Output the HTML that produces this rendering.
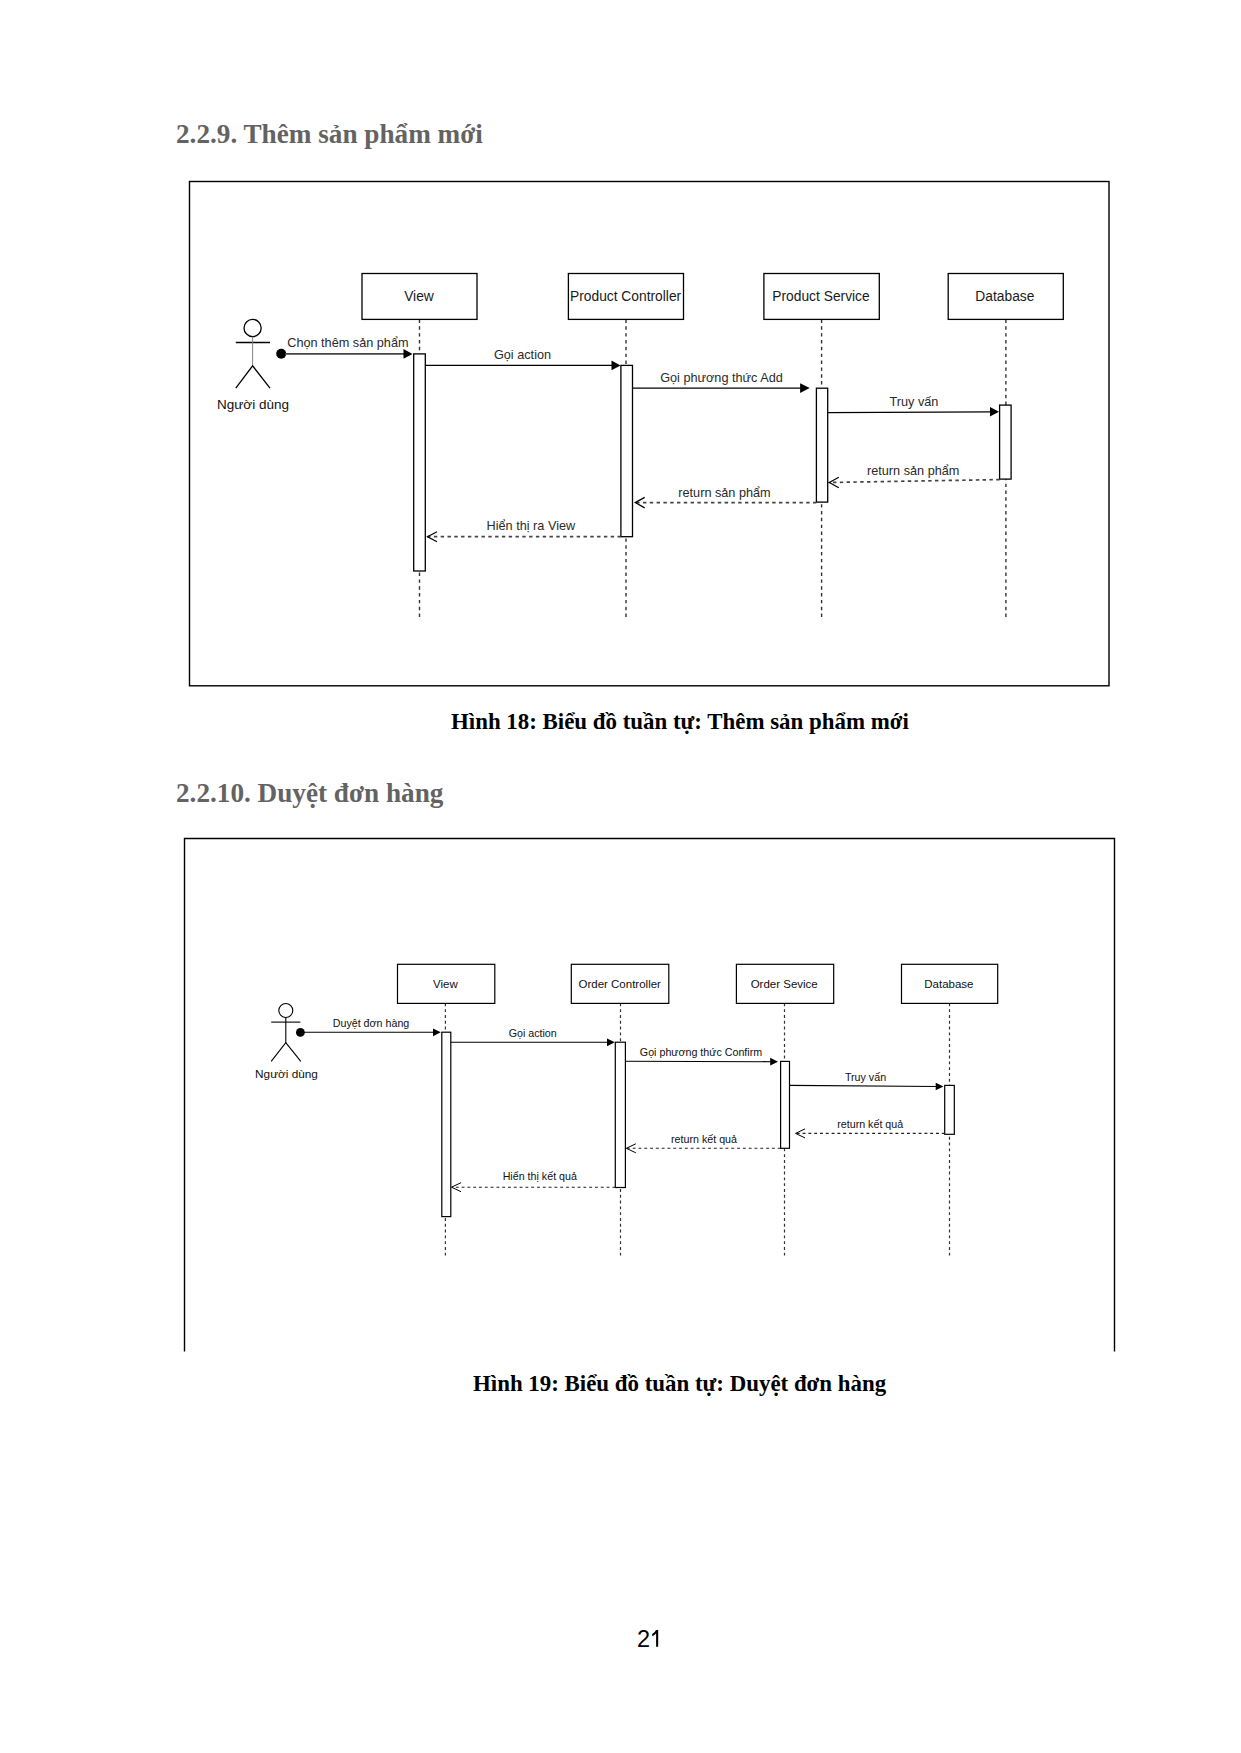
<!DOCTYPE html>
<html>
<head>
<meta charset="utf-8">
<style>
html,body{margin:0;padding:0;background:#fff;width:1241px;height:1753px;overflow:hidden;}
svg{position:absolute;left:0;top:0;}
.h{font-family:"Liberation Serif",serif;font-weight:bold;font-size:27.2px;fill:#636363;}
.cap{font-family:"Liberation Serif",serif;font-weight:bold;font-size:22.9px;fill:#000;}
.t1b{font-family:"Liberation Sans",sans-serif;font-size:13.8px;fill:#1a1a1a;}
.t1a{font-family:"Liberation Sans",sans-serif;font-size:13.5px;fill:#111;}
.t1m{font-family:"Liberation Sans",sans-serif;font-size:12.7px;fill:#2a2a2a;}
.t2b{font-family:"Liberation Sans",sans-serif;font-size:11.5px;fill:#111;}
.t2a{font-family:"Liberation Sans",sans-serif;font-size:11.8px;fill:#111;}
.t2m{font-family:"Liberation Sans",sans-serif;font-size:10.7px;fill:#111;}
.pn{font-family:"Liberation Sans",sans-serif;font-size:23.5px;fill:#000;}
</style>
</head>
<body>
<svg width="1241" height="1753" viewBox="0 0 1241 1753">
<defs>
</defs>
<!-- headings -->
<text class="h" x="176" y="143">2.2.9. Thêm sản phẩm mới</text>
<text class="cap" x="451" y="729">Hình 18: Biểu đồ tuần tự: Thêm sản phẩm mới</text>
<text class="h" x="176" y="801.5">2.2.10. Duyệt đơn hàng</text>
<text class="cap" x="473" y="1391">Hình 19: Biểu đồ tuần tự: Duyệt đơn hàng</text>
<text class="pn" x="637" y="1647">2</text>
<path d="M656,1630 L658.2,1630 L658.2,1646.7 L656.1,1646.7 L656.1,1633.6 Q654.6,1635.2 652.2,1636.2 L652.2,1634.1 Q655,1632.6 656,1630 Z" fill="#000"/>

<!-- DIAGRAM 1 -->
<g id="d1">
<rect x="189.5" y="181.5" width="919.5" height="504.3" fill="none" stroke="#000" stroke-width="1.4"/>
<line x1="419.5" y1="319.5" x2="419.5" y2="617.2" stroke="#333" stroke-width="1.4" stroke-dasharray="3.42 3.42"/>
<line x1="626" y1="319.5" x2="626" y2="617.2" stroke="#333" stroke-width="1.4" stroke-dasharray="3.42 3.42"/>
<line x1="821.6" y1="319.5" x2="821.6" y2="617.2" stroke="#333" stroke-width="1.4" stroke-dasharray="3.42 3.42"/>
<line x1="1005.9" y1="319.5" x2="1005.9" y2="617.2" stroke="#333" stroke-width="1.4" stroke-dasharray="3.42 3.42"/>
<rect x="362" y="273.5" width="115.00" height="45.90" fill="#fff" stroke="#000" stroke-width="1.3"/>
<text class="t1b" x="419" y="301.2" text-anchor="middle">View</text>
<rect x="568.4" y="273.5" width="115.10" height="45.90" fill="#fff" stroke="#000" stroke-width="1.3"/>
<text class="t1b" x="625.6" y="301.2" text-anchor="middle">Product Controller</text>
<rect x="763.9" y="273.5" width="115.40" height="45.90" fill="#fff" stroke="#000" stroke-width="1.3"/>
<text class="t1b" x="821" y="301.2" text-anchor="middle">Product Service</text>
<rect x="948.2" y="273.5" width="115.10" height="45.90" fill="#fff" stroke="#000" stroke-width="1.3"/>
<text class="t1b" x="1004.9" y="301.2" text-anchor="middle">Database</text>
<circle cx="252.6" cy="328" r="8.6" fill="#fff" stroke="#000" stroke-width="1.3"/>
<line x1="235.8" y1="342.5" x2="270" y2="342.5" stroke="#000" stroke-width="1.3"/>
<line x1="252.6" y1="336.6" x2="252.6" y2="365.8" stroke="#777" stroke-width="0.9"/>
<polyline points="235.8,388.2 252.6,365.8 270,388.2" fill="none" stroke="#000" stroke-width="1.3"/>
<text class="t1a" x="253" y="409" text-anchor="middle">Người dùng</text>
<rect x="413.7" y="353.9" width="11.60" height="217.10" fill="#fff" stroke="#000" stroke-width="1.3"/>
<rect x="620.9" y="365.4" width="11.60" height="171.30" fill="#fff" stroke="#000" stroke-width="1.3"/>
<rect x="816.4" y="388.2" width="11.30" height="113.90" fill="#fff" stroke="#000" stroke-width="1.3"/>
<rect x="999.6" y="405.1" width="11.50" height="74.00" fill="#fff" stroke="#000" stroke-width="1.3"/>
<circle cx="281.2" cy="353.8" r="5" fill="#000"/>
<line x1="285" y1="353.9" x2="405" y2="353.9" stroke="#444" stroke-width="1.6"/>
<polygon points="412.5,353.9 403.5,349.09999999999997 403.5,358.7" fill="#000"/>
<text class="t1m" x="347.9" y="347" text-anchor="middle">Chọn thêm sản phẩm</text>
<line x1="425.3" y1="365.4" x2="613" y2="365.4" stroke="#000" stroke-width="1.3"/>
<polygon points="620.5,365.4 611.5,360.59999999999997 611.5,370.2" fill="#000"/>
<text class="t1m" x="522.5" y="359.1" text-anchor="middle">Gọi action</text>
<line x1="632.5" y1="388.2" x2="801" y2="388.2" stroke="#000" stroke-width="1.3"/>
<polygon points="809.7,388.1 800.1,383.25 800.1,392.95000000000005" fill="#000"/>
<text class="t1m" x="721.5" y="382" text-anchor="middle">Gọi phương thức Add</text>
<line x1="827.7" y1="412.6" x2="991" y2="411.8" stroke="#000" stroke-width="1.3"/>
<polygon points="999,411.8 990,407.0 990,416.6" fill="#000"/>
<text class="t1m" x="913.9" y="406.3" text-anchor="middle">Truy vấn</text>
<line x1="999.6" y1="479.6" x2="828.5" y2="482.5" stroke="#444" stroke-width="1.7" stroke-dasharray="3.4 3.4"/>
<polyline points="838.8,477.25 829.3,482.5 838.8,487.75" fill="none" stroke="#000" stroke-width="1.2"/>
<text class="t1m" x="913.2" y="475" text-anchor="middle">return sản phẩm</text>
<line x1="816.4" y1="502.6" x2="633.5" y2="502.6" stroke="#444" stroke-width="1.7" stroke-dasharray="3.4 3.4"/>
<polyline points="644.7,497.35 635.2,502.6 644.7,507.85" fill="none" stroke="#000" stroke-width="1.2"/>
<text class="t1m" x="724.5" y="497.3" text-anchor="middle">return sản phẩm</text>
<line x1="620.9" y1="536.7" x2="426.5" y2="536.7" stroke="#444" stroke-width="1.7" stroke-dasharray="3.4 3.4"/>
<polyline points="437.0,531.7 427.5,536.7 437.0,541.7" fill="none" stroke="#000" stroke-width="1.2"/>
<text class="t1m" x="530.9" y="529.6" text-anchor="middle">Hiển thị ra View</text>
</g>

<!-- DIAGRAM 2 -->
<g id="d2">
<polyline points="184.5,1351.6 184.5,838.5 1114.5,838.5 1114.5,1351.6" fill="none" stroke="#000" stroke-width="1.4"/>
<line x1="445.4" y1="1003.4" x2="445.4" y2="1255.4" stroke="#333" stroke-width="1.2" stroke-dasharray="2.9 2.9"/>
<line x1="620.5" y1="1003.4" x2="620.5" y2="1255.4" stroke="#333" stroke-width="1.2" stroke-dasharray="2.9 2.9"/>
<line x1="784.5" y1="1003.4" x2="784.5" y2="1255.4" stroke="#333" stroke-width="1.2" stroke-dasharray="2.9 2.9"/>
<line x1="949.5" y1="1003.4" x2="949.5" y2="1255.4" stroke="#333" stroke-width="1.2" stroke-dasharray="2.9 2.9"/>
<rect x="397.5" y="964.3" width="97.30" height="39.10" fill="#fff" stroke="#000" stroke-width="1.2"/>
<text class="t2b" x="445.4" y="988.3" text-anchor="middle">View</text>
<rect x="571.3" y="964.3" width="97.50" height="39.10" fill="#fff" stroke="#000" stroke-width="1.2"/>
<text class="t2b" x="619.7" y="988.3" text-anchor="middle">Order Controller</text>
<rect x="736.4" y="964.3" width="97.30" height="39.10" fill="#fff" stroke="#000" stroke-width="1.2"/>
<text class="t2b" x="784.2" y="988.3" text-anchor="middle">Order Sevice</text>
<rect x="901.5" y="964.3" width="96.20" height="39.10" fill="#fff" stroke="#000" stroke-width="1.2"/>
<text class="t2b" x="948.9" y="988.3" text-anchor="middle">Database</text>
<circle cx="285.8" cy="1010.5" r="7" fill="#fff" stroke="#000" stroke-width="1.1"/>
<line x1="271.2" y1="1022.1" x2="300.4" y2="1022.1" stroke="#000" stroke-width="1.1"/>
<line x1="285.8" y1="1017.5" x2="285.8" y2="1042.7" stroke="#000" stroke-width="1.1"/>
<polyline points="271.2,1061.4 285.8,1042.7 300.8,1061.4" fill="none" stroke="#000" stroke-width="1.1"/>
<text class="t2a" x="286.5" y="1078.3" text-anchor="middle">Người dùng</text>
<rect x="441.8" y="1032.2" width="9.00" height="184.40" fill="#fff" stroke="#000" stroke-width="1.2"/>
<rect x="615.3" y="1042.2" width="10.10" height="145.30" fill="#fff" stroke="#000" stroke-width="1.2"/>
<rect x="780.6" y="1061.4" width="8.90" height="86.90" fill="#fff" stroke="#000" stroke-width="1.2"/>
<rect x="944.7" y="1085.4" width="9.60" height="48.90" fill="#fff" stroke="#000" stroke-width="1.2"/>
<circle cx="300.4" cy="1032.4" r="4.4" fill="#000"/>
<line x1="300.4" y1="1032.3" x2="434" y2="1032.3" stroke="#000" stroke-width="1.1"/>
<polygon points="440.8,1032.3 433.0,1028.45 433.0,1036.1499999999999" fill="#000"/>
<text class="t2m" x="371" y="1027" text-anchor="middle">Duyệt đơn hàng</text>
<line x1="450.8" y1="1042.3" x2="608" y2="1042.3" stroke="#000" stroke-width="1.1"/>
<polygon points="614.8,1042.3 607.0,1038.45 607.0,1046.1499999999999" fill="#000"/>
<text class="t2m" x="532.7" y="1037" text-anchor="middle">Gọi action</text>
<line x1="625.4" y1="1061.2" x2="771" y2="1061.7" stroke="#000" stroke-width="1.1"/>
<polygon points="778,1061.7 770.2,1057.8500000000001 770.2,1065.55" fill="#000"/>
<text class="t2m" x="701" y="1056" text-anchor="middle">Gọi phương thức Confirm</text>
<line x1="789.5" y1="1085.4" x2="937" y2="1086.5" stroke="#000" stroke-width="1.1"/>
<polygon points="943.5,1086.5 935.7,1082.65 935.7,1090.35" fill="#000"/>
<text class="t2m" x="865.5" y="1080.6" text-anchor="middle">Truy vấn</text>
<line x1="944.7" y1="1133.4" x2="796" y2="1133.4" stroke="#222" stroke-width="1.1" stroke-dasharray="2.9 2.9"/>
<polyline points="805.0,1128.9 795.5,1133.4 805.0,1137.9" fill="none" stroke="#000" stroke-width="1.0"/>
<text class="t2m" x="870.2" y="1127.6" text-anchor="middle">return kết quả</text>
<line x1="780.6" y1="1148.3" x2="627" y2="1148.3" stroke="#222" stroke-width="1.1" stroke-dasharray="2.9 2.9"/>
<polyline points="635.8,1143.8 626.3,1148.3 635.8,1152.8" fill="none" stroke="#000" stroke-width="1.0"/>
<text class="t2m" x="704" y="1143" text-anchor="middle">return kết quả</text>
<line x1="615.3" y1="1187.2" x2="452" y2="1187.2" stroke="#222" stroke-width="1.1" stroke-dasharray="2.9 2.9"/>
<polyline points="461.0,1182.7 451.5,1187.2 461.0,1191.7" fill="none" stroke="#000" stroke-width="1.0"/>
<text class="t2m" x="539.8" y="1180.4" text-anchor="middle">Hiển thị kết quả</text>
</g>
</svg>
</body>
</html>
